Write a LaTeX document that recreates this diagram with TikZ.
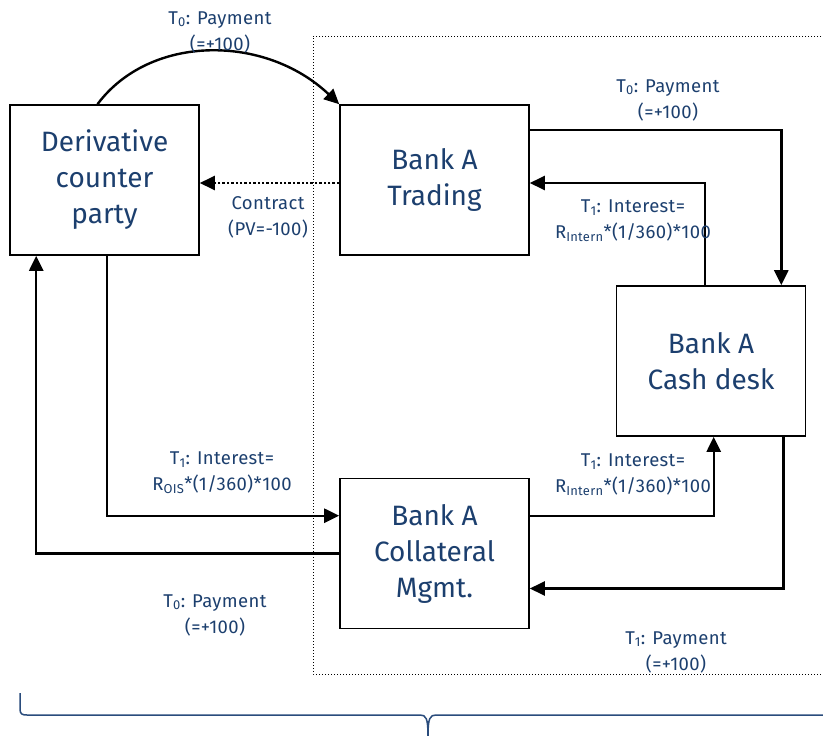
\documentclass[tikz,border=0pt]{standalone}
\usepackage{fontspec}
\setmainfont{Fira Sans}
\newfontfamily\labelfont[LetterSpace=2]{Fira Sans}
\usetikzlibrary{arrows.meta}
\definecolor{txtblue}{HTML}{1C3F6E}
\definecolor{braceblue}{HTML}{2A4C7C}
\begin{document}
\begin{tikzpicture}[x=1pt,y=-1pt,
  unit/.style={draw,line width=1.6pt,minimum width=189pt,minimum height=150pt,
    align=center,text=txtblue,font=\fontsize{28}{36}\selectfont},
  lbl/.style={align=center,text=txtblue,font=\labelfont\fontsize{18.5}{26}\selectfont},
  flow/.style={line width=2.4pt,-{Triangle[length=15pt,width=14pt]}},
  dotflow/.style={line width=2.4pt,dotted,-{Triangle[length=15pt,width=14pt]}},
  frame/.style={line width=1pt,dotted}]
\useasboundingbox (0,0) rectangle (823,736);

% bank A boundary
\draw[frame] (830,36) -- (313,36) -- (313,674) -- (830,674);

% units
\node[unit] (dcp) at (104.5,180) {Derivative\\counter\\party};
\node[unit] (trading) at (434.5,180) {Bank A\\Trading};
\node[unit] (cash) at (711,361) {Bank A\\Cash desk};
\node[unit] (coll) at (434.5,553.5) {Bank A\\Collateral\\Mgmt.};

% flows
\draw[flow] ([xshift=-7pt]dcp.north) .. controls (150,34) and (265,34) .. (trading.north west);
\draw[dotflow] ([yshift=-3pt]trading.west) -- ([yshift=-3pt]dcp.east);
\draw[flow] ([yshift=-26pt]trading.north east) -| ([xshift=-25pt]cash.north east);
\draw[flow] ([xshift=89pt]cash.north west) |- ([yshift=-3pt]trading.east);
\draw[flow] ([xshift=98pt]dcp.south west) |- ([yshift=-38pt]coll.north west);
\draw[flow] (coll.west) -| ([xshift=27pt]dcp.south west);
\draw[flow] ([yshift=-38pt]coll.north east) -| ([xshift=98pt]cash.south west);
\draw[flow] ([xshift=-23pt]cash.south east) |- ([yshift=-35pt]coll.east);

% flow labels
\node[lbl] (l1) at (220,32) {T\textsubscript{0}: Payment\\(=+100)};
\node[lbl] (l2) at (268,217) {Contract\\(PV=-100)};
\node[lbl] (l3) at (668,100) {T\textsubscript{0}: Payment\\(=+100)};
\node[lbl] (l4) at (633,221) {T\textsubscript{1}: Interest=\\R\textsubscript{Intern}*(1/360)*100};
\node[lbl] (l5) at (222,473) {T\textsubscript{1}: Interest=\\R\textsubscript{OIS}*(1/360)*100};
\node[lbl] (l6) at (215,615) {T\textsubscript{0}: Payment\\(=+100)};
\node[lbl] (l7) at (633,475) {T\textsubscript{1}: Interest=\\R\textsubscript{Intern}*(1/360)*100};
\node[lbl] (l8) at (676,652) {T\textsubscript{1}: Payment\\(=+100)};

% brace under the bank
\draw[braceblue,line width=1.5pt]
  (20,693) -- (20,709) .. controls (20,714) and (22,715) .. (27,715)
  -- (420,715) .. controls (426,715) and (428,718) .. (428,736);
\draw[braceblue,line width=1.5pt]
  (428,736) .. controls (428,718) and (430,715) .. (436,715) -- (840,715);
\end{tikzpicture}
\end{document}
